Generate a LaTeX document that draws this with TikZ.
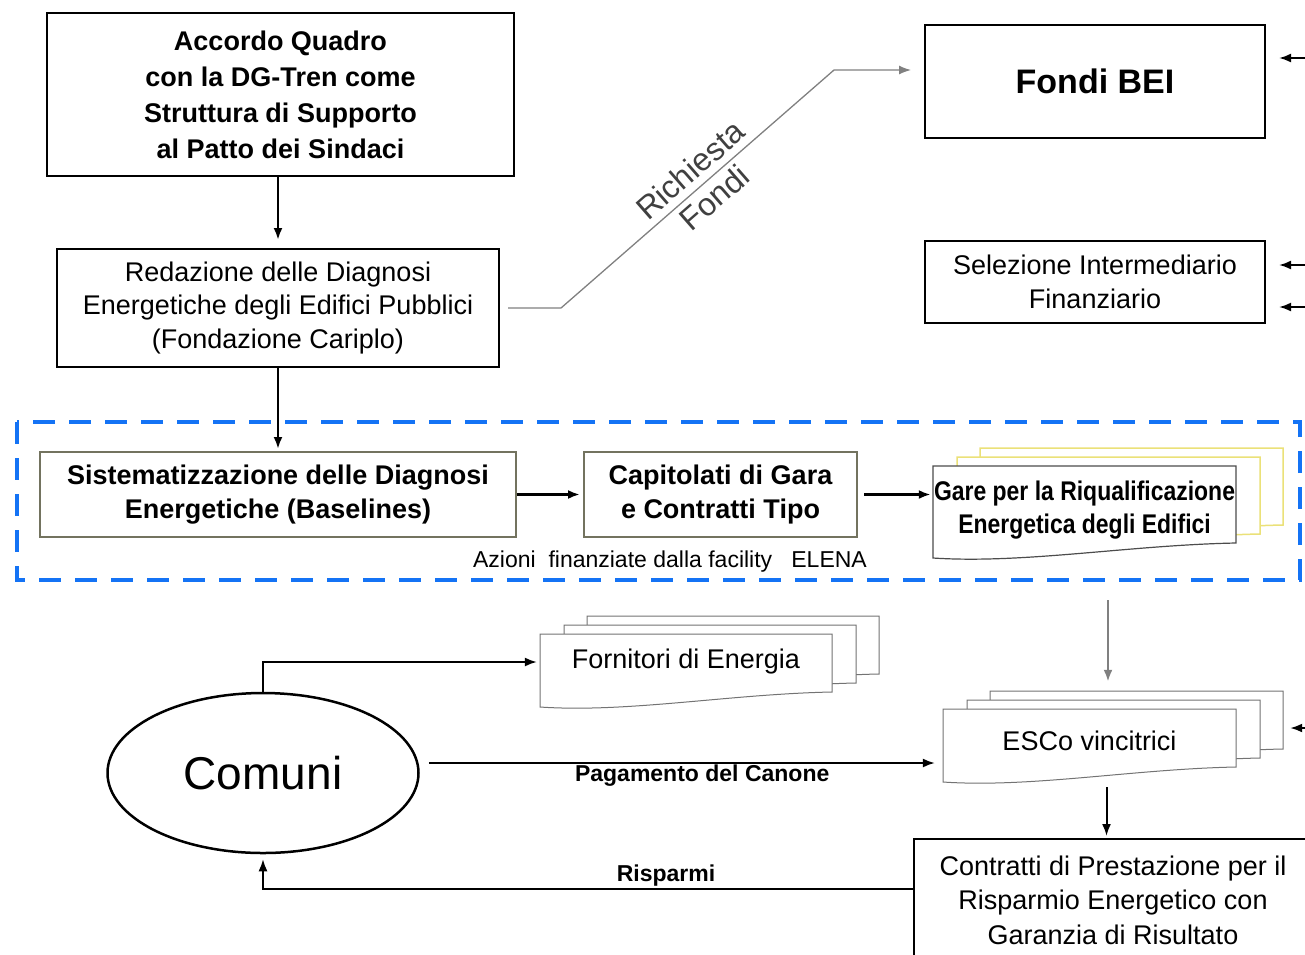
\documentclass[tikz,border=0pt]{standalone}
\usepackage{fontspec}
\setmainfont{Liberation Sans}
\newfontfamily\narrowfont[FakeStretch=0.85]{Liberation Sans}
\usetikzlibrary{positioning,shapes.geometric,arrows.meta}
\definecolor{elenablue}{RGB}{20,115,245}
\definecolor{olivegrey}{RGB}{115,115,95}
\definecolor{paleyellow}{RGB}{235,225,120}

% one sheet with a wavy lower edge, and a stack of three of them
\newcommand{\docsheet}[5]{%
  \draw[#1] (#2,#3) -- ++(#4,0) -- ++(0,#5-15)
    .. controls +(-0.35*#4,2) and +(0.3*#4,6) .. (#2,#3+#5) -- cycle;}
\newcommand{\docstack}[6]{%
  \docsheet{#1}{#3+47}{#4-18}{#5}{#6}
  \docsheet{#1}{#3+24}{#4-9}{#5}{#6}
  \docsheet{#2}{#3}{#4}{#5}{#6}}

\begin{document}
\begin{tikzpicture}[x=1pt,y=-1pt,>={Latex[length=12pt,width=9pt]},on grid,
  box/.style={draw,line width=2pt,align=center,inner sep=0pt,
    font=\fontsize{27}{33.5}\selectfont},
  boldbox/.style={box,font=\fontsize{27}{36}\selectfont\bfseries},
  elenabox/.style={boldbox,draw=olivegrey,font=\fontsize{27}{34}\selectfont\bfseries},
  doctext/.style={align=center,inner sep=0pt,font=\fontsize{27}{33}\selectfont},
  elena/.style={draw=elenablue,line width=4pt,dash pattern=on 22pt off 14pt},
  flow/.style={->,line width=2.8pt},
  link/.style={->,line width=2pt},
  greyline/.style={draw=gray,line width=1.3pt},
  slopelabel/.style={sloped,text=black!75,font=\fontsize{32}{36}\selectfont},
  papersheet/.style={draw=black!55,fill=white,line width=1pt},
  garesheet/.style={draw=paleyellow,fill=white,line width=1.5pt},
  garefront/.style={draw=black!70,fill=white,line width=1.2pt}]
\useasboundingbox (0,0) rectangle (1305,954);
\clip (0,0) rectangle (1305,954);

\node[boldbox,line width=2.5pt,minimum width=467pt,minimum height=163pt] (accordo) at (280.5,94.5)
  {Accordo Quadro\\con la DG-Tren come\\Struttura di Supporto\\al Patto dei Sindaci};
\node[box,minimum width=442pt,minimum height=118pt] (redaz) at (278,308)
  {Redazione delle Diagnosi\\Energetiche degli Edifici Pubblici\\(Fondazione Cariplo)};
\node[box,minimum width=340pt,minimum height=113pt,font=\fontsize{34}{40}\selectfont\bfseries] (fondi) at (1095,81.5) {Fondi BEI};
\node[box,minimum width=340pt,minimum height=82pt] (selez) [below=200.5pt of fondi]
  {Selezione Intermediario\\Finanziario};

% facility ELENA
\draw[elena] (17,422) rectangle (1300,580);
\node[elenabox,minimum width=476pt,minimum height=85pt] (sist) [below=186.5pt of redaz]
  {Sistematizzazione delle Diagnosi\\Energetiche (Baselines)};
\node[elenabox,minimum width=273pt,minimum height=85pt] (capit) [right=442.5pt of sist]
  {Capitolati di Gara\\e Contratti Tipo};
\node[font=\fontsize{23}{28}\selectfont] (azioni) at (670,562) {Azioni\ \ finanziate dalla facility\ \ \ ELENA};

\docstack{garesheet}{garefront}{933}{466}{303}{92}
\node[doctext,font=\fontsize{27}{33}\selectfont\narrowfont\bfseries,minimum width=303pt,minimum height=92pt] (gare) at (1084.5,510)
  {Gare per la Riqualificazione\\Energetica degli Edifici};

\docstack{papersheet}{papersheet}{540}{634}{292}{73}
\node[doctext,minimum width=292pt,minimum height=56pt] (fornit) at (686,662) {Fornitori di Energia};

\docstack{papersheet}{papersheet}{943}{709}{293}{73}
\node[doctext,minimum width=293pt,minimum height=64pt] (escos) at (1089.5,741) {ESCo vincitrici};

\node[box,anchor=north west,minimum width=398pt,minimum height=122pt,font=\fontsize{27}{34.5}\selectfont] (contr) at (913,838)
  {Contratti di Prestazione per il\\Risparmio Energetico con\\Garanzia di Risultato};

\node[ellipse,draw,line width=2.5pt,minimum width=311pt,minimum height=160pt,inner sep=0pt,
  font=\fontsize{46}{50}\selectfont] (comuni) at (263,773) {Comuni};

% connectors
\draw[flow,shorten >=8pt] (accordo.south -| redaz.north) -- (redaz.north);
\draw[flow,shorten >=2pt] (redaz) -- (sist);
\draw[flow,line width=3.2pt,shorten >=3pt] (sist) -- (capit);
\draw[flow,shorten <=6pt,shorten >=2pt] (capit.east) -- (capit.east -| gare.west);

\draw[greyline,->,shorten <=8pt,shorten >=13pt] (redaz.east) -- ++(61,0) -- ++(273,-238)
  node[pos=0.52,above,inner sep=7pt,slopelabel] {Richiesta}
  node[pos=0.52,below,inner sep=5pt,slopelabel] {Fondi}
  -- ([yshift=11.5pt]fondi.west);

\coordinate (in1) at (1315,58);
\coordinate (in2) at (1315,265);
\coordinate (in3) at (1315,307);
\coordinate (in4) at (1315,728);
\draw[link,shorten >=13pt] (in1) -- (in1 -| fondi.east);
\draw[link,shorten >=13pt] (in2) -- (in2 -| selez.east);
\draw[link,shorten >=13pt] (in3) -- (in3 -| selez.east);
\draw[link,shorten >=54pt] (in4) -- (in4 -| escos.east);

\coordinate (garedown) at ([xshift=23.5pt]gare.south);
\draw[link,draw=gray,line width=2.5pt,shorten <=44pt,shorten >=27pt] (garedown) -- (garedown |- escos.north);
\coordinate (escdown) at ([xshift=17pt]escos.south);
\draw[link,shorten <=14pt,shorten >=2pt] (escdown) -- (escdown |- contr.north);

\draw[link,line width=1.7pt,shorten >=3pt] (comuni.north) |- (fornit.west);
\coordinate (pay) at ([yshift=10pt]comuni.east);
\draw[link,line width=1.7pt,shorten <=9pt,shorten >=8pt] (pay) -- (pay -| escos.west)
  node[pos=0.54,below,inner sep=1pt,font=\fontsize{23}{28}\selectfont\bfseries] {Pagamento del Canone};
\draw[link,line width=1.7pt,shorten >=5pt] ([yshift=11pt]contr.west) -| (comuni.south)
  node[pos=0.19,above,inner sep=2pt,font=\fontsize{23}{28}\selectfont\bfseries] {Risparmi};
\end{tikzpicture}
\end{document}
